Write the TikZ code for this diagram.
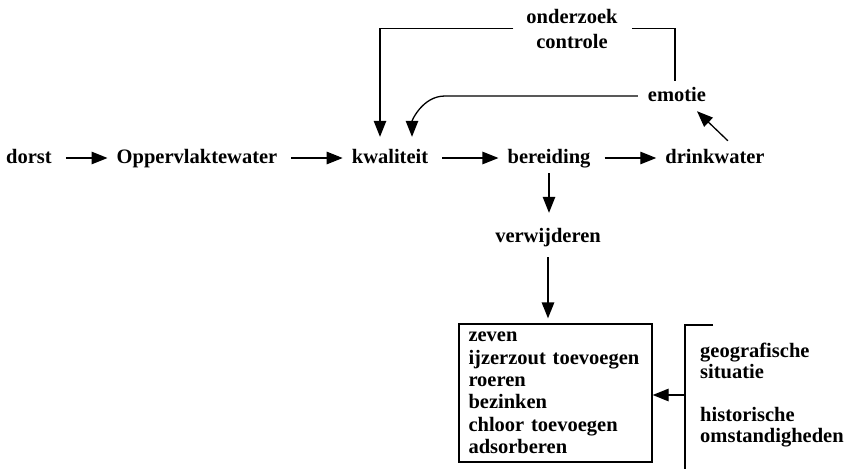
\documentclass[tikz,border=0pt]{standalone}
\usepackage{fontspec}
\setmainfont{Liberation Serif}
\usetikzlibrary{arrows.meta,positioning}
\tikzstyle{flow} = [draw,line width=1.3pt,-{Triangle[length=16pt,width=12.5pt]}]
\tikzstyle{conn} = [draw,line width=1.3pt,-]

\begin{document}
\begin{tikzpicture}
[x=1pt,y=-1pt,
word/.style={inner sep=6pt,text height=14pt,text depth=4pt,font=\fontsize{20.5}{24}\selectfont\bfseries},
stack/.style={align=left,inner sep=0pt,font=\fontsize{20.5}{21}\selectfont\bfseries},
stepsbox/.style={draw,line width=1.3pt,align=left,text width=174pt,inner xsep=9.5pt,inner ysep=3pt,minimum height=138pt,font=\fontsize{20.5}{22.4}\selectfont\bfseries,execute at begin node={\hyphenpenalty=10000 }}]

\useasboundingbox (0,0) rectangle (860,469);

%% nodes or vertices
\foreach \nodename/\x/\y/\txt in {
dorst/29/158/dorst, opp/197/158/Oppervlaktewater, kwal/390/158/kwaliteit, ber/549/158/bereiding, drink/715/158/drinkwater, emo/677/96/emotie, verw/548/237/verwijderen}
{
\node (\nodename) at (\x,\y) [word] {\txt};
}

\node (ctrl) at (572,28.5) [stack,align=center,inner sep=6pt,font=\fontsize{20.5}{25}\selectfont\bfseries] {onderzoek\\controle};
\node (methods) at (555.5,393) [stepsbox] {zeven\\ijzerzout toevoegen\\roeren\\bezinken\\chloor toevoegen\\adsorberen};
\node (geo) at (700,361) [stack,anchor=west] {geografische\\situatie};
\node (hist) at (700,427.5) [stack,anchor=west] {historische\\omstandigheden};

\coordinate (brtop) at (713,325);
\coordinate (brbot) at (685,469);
\coordinate (brmid) at (685,395);

%% edges or lines
\path
\foreach \startnode/\endnode in {dorst/opp, opp/kwal, kwal/ber, ber/drink}
{
(\startnode) edge[flow,shorten <=8pt,shorten >=3pt] (\endnode)
};

\draw[flow,shorten >=9pt] (ber.south) -- (ber.south |- verw.north);
\draw[flow,shorten <=5pt,shorten >=5pt] (verw.south) -- (verw.south |- methods.north);

\draw[flow,shorten <=7pt,shorten >=6pt] (ctrl.west) -| ([xshift=-10pt]kwal.north);
\draw[conn,shorten <=8pt] (ctrl.east) -| ([xshift=-2pt]emo.north);
\draw[flow,shorten <=4pt,shorten >=6pt] (emo.west) -- ([xshift=55pt]kwal.north |- emo.west) to[out=180,in=90] ([xshift=22pt]kwal.north);
\draw[flow,shorten <=3pt] ([xshift=15pt]drink.north) -- ([xshift=20pt]emo.south);

\draw[conn] (brtop) -| (brbot);
\draw[flow] (brmid) -- (brmid -| methods.east);

\end{tikzpicture}
\end{document}
